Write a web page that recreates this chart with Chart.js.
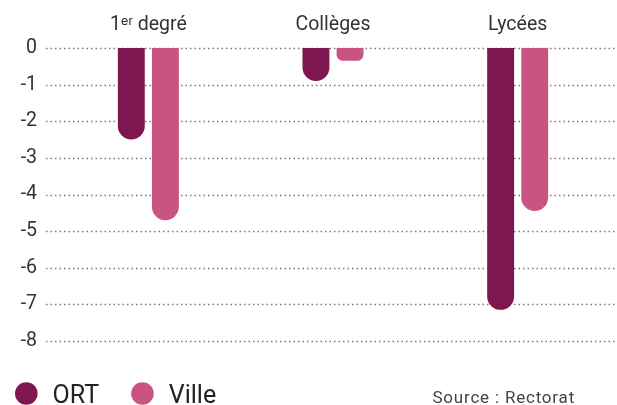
<!DOCTYPE html>
<html><head><meta charset="utf-8">
<script src="https://cdn.jsdelivr.net/npm/chart.js@4"></script>
<style>html,body{margin:0;padding:0;background:#fff}#wrap{width:617px;height:405px;position:relative}</style>
</head><body><div id="wrap"><canvas id="c"></canvas></div>
<script>
const categories = ['1ᵉʳ degré', 'Collèges', 'Lycées'];
const seriesNames = ['ORT', 'Ville'];
const ortValues = [-2.5, -0.9, -7.15];
const villeValues = [-4.7, -0.35, -4.45];
const yTickValues = [0, -1, -2, -3, -4, -5, -6, -7, -8];
const sourceText = 'Source : Rectorat';
const seriesColors = ['#7E1650', '#C95381'];
const FONT = 'Roboto, "Liberation Sans", sans-serif';

const dottedGrid = {
  id: 'dottedGrid',
  beforeDatasetsDraw(chart) {
    const ctx = chart.ctx, y = chart.scales.y;
    ctx.save();
    ctx.strokeStyle = '#7a7a7a';
    ctx.lineWidth = 1.5;
    ctx.setLineDash([1.5, 3]);
    yTickValues.forEach(v => {
      const py = Math.round(y.getPixelForValue(v)) + 0.5;
      ctx.beginPath(); ctx.moveTo(46, py); ctx.lineTo(617, py); ctx.stroke();
    });
    ctx.restore();
  }
};

const customLegend = {
  id: 'customLegend',
  afterDraw(chart) {
    const ctx = chart.ctx;
    ctx.save();
    ctx.font = '25px ' + FONT;
    ctx.textBaseline = 'alphabetic';
    let x = 15;
    const cy = 393.5, r = 11.3;
    chart.data.datasets.forEach(ds => {
      ctx.fillStyle = ds.backgroundColor;
      ctx.beginPath(); ctx.arc(x + r, cy, r, 0, Math.PI * 2); ctx.fill();
      const tx = x + 2 * r + 15;
      ctx.fillStyle = '#222';
      ctx.fillText(ds.label, tx, 403);
      x = tx + ctx.measureText(ds.label).width + 32;
    });
    ctx.font = '17px ' + FONT;
    if ('letterSpacing' in ctx) ctx.letterSpacing = '0.8px';
    ctx.fillStyle = '#444';
    ctx.textAlign = 'right';
    ctx.fillText(sourceText, 575, 403);
    ctx.restore();
  }
};

new Chart(document.getElementById('c'), {
  type: 'bar',
  data: {
    labels: categories,
    datasets: [
      { label: seriesNames[0], data: ortValues, backgroundColor: seriesColors[0] },
      { label: seriesNames[1], data: villeValues, backgroundColor: seriesColors[1] }
    ]
  },
  options: {
    responsive: true,
    maintainAspectRatio: false,
    animation: false,
    layout: { padding: { top: 0, right: 7, bottom: 64, left: 0 } },
    datasets: { bar: { barPercentage: 0.79, categoryPercentage: 0.369, borderRadius: 14, borderSkipped: 'start' } },
    plugins: { legend: { display: false }, tooltip: { enabled: false } },
    scales: {
      x: {
        position: 'top', offset: true,
        grid: { display: false, drawTicks: false }, border: { display: false },
        ticks: { color: '#333', font: { family: FONT, size: 19.5 }, padding: 11 },
        afterFit(s) { s.height = 48; }
      },
      y: {
        min: -8, max: 0,
        grid: { display: false, drawTicks: false }, border: { display: false },
        ticks: { stepSize: 1, color: '#333', font: { family: FONT, size: 19.5 }, padding: 19 },
        afterFit(s) { s.width = 56; }
      }
    }
  },
  plugins: [dottedGrid, customLegend]
});
</script></body></html>
